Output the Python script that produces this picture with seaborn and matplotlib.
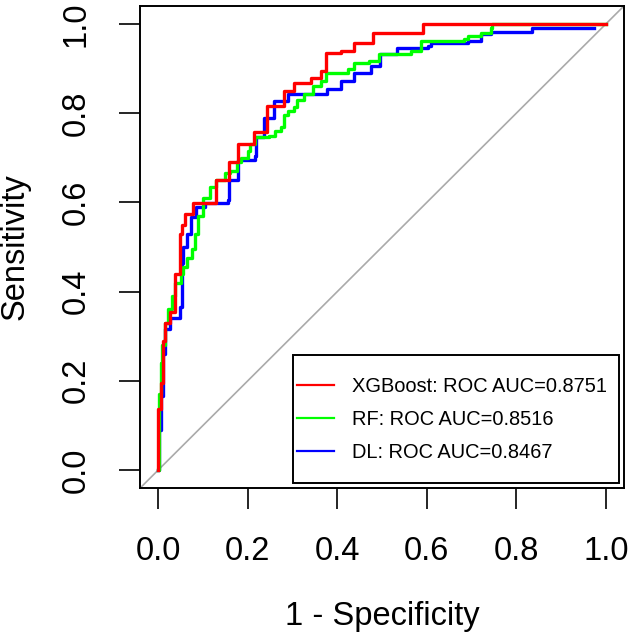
import matplotlib
matplotlib.use("Agg")
import matplotlib.pyplot as plt
from matplotlib.lines import Line2D
from matplotlib.patches import Rectangle
import seaborn as sns
import pandas as pd

# ---- data ----
xgb_fpr = [0, 0, 0.007, 0.011, 0.016, 0.027, 0.038, 0.049, 0.054, 0.060, 0.078, 0.128, 0.157, 0.179, 0.213,
           0.244, 0.280, 0.303, 0.341, 0.363, 0.374, 0.408, 0.437, 0.480, 0.592, 1.0]
xgb_tpr = [0, 0.136, 0.196, 0.29, 0.33, 0.355, 0.44, 0.53, 0.55, 0.575, 0.598, 0.65, 0.69, 0.73, 0.757,
           0.817, 0.85, 0.868, 0.88, 0.895, 0.935, 0.94, 0.958, 0.98, 1.0, 1.0]

rf_fpr = [0, 0.002, 0.005, 0.009, 0.016, 0.022, 0.031, 0.038, 0.05, 0.056, 0.065, 0.075, 0.083, 0.088, 0.099,
          0.115, 0.128, 0.150, 0.161, 0.175, 0.184, 0.2, 0.205, 0.217, 0.247, 0.26, 0.274, 0.28, 0.29, 0.303,
          0.31, 0.325, 0.345, 0.363, 0.374, 0.424, 0.437, 0.47, 0.493, 0.565, 0.587, 0.684, 0.693, 0.722,
          0.744, 0.746, 1.0]
rf_tpr = [0, 0.17, 0.24, 0.28, 0.33, 0.36, 0.39, 0.42, 0.44, 0.455, 0.475, 0.495, 0.53, 0.57, 0.61,
          0.635, 0.65, 0.665, 0.67, 0.69, 0.70, 0.716, 0.73, 0.746, 0.75, 0.76, 0.768, 0.795, 0.805, 0.813,
          0.83, 0.844, 0.86, 0.873, 0.89, 0.90, 0.913, 0.917, 0.933, 0.94, 0.962, 0.966, 0.973, 0.98,
          0.991, 1.0, 1.0]

dl_fpr = [0, 0.002, 0.007, 0.011, 0.016, 0.027, 0.049, 0.054, 0.056, 0.065, 0.072, 0.085, 0.105, 0.155, 0.157,
          0.177, 0.217, 0.218, 0.236, 0.258, 0.29, 0.378, 0.408, 0.437, 0.475, 0.496, 0.534, 0.603, 0.610,
          0.693, 0.722, 0.744, 0.834, 0.973]
dl_tpr = [0, 0.09, 0.165, 0.26, 0.315, 0.34, 0.366, 0.464, 0.50, 0.53, 0.567, 0.59, 0.598, 0.605, 0.65,
          0.694, 0.705, 0.746, 0.79, 0.828, 0.844, 0.855, 0.873, 0.89, 0.906, 0.933, 0.946, 0.951, 0.958,
          0.962, 0.978, 0.982, 0.991, 0.991]

labels = ["XGBoost: ROC AUC=0.8751", "RF: ROC AUC=0.8516", "DL: ROC AUC=0.8467"]
colors = ["#FF0000", "#00FF00", "#0000FF"]
ticks = [0.0, 0.2, 0.4, 0.6, 0.8, 1.0]
tick_labels = ["0.0", "0.2", "0.4", "0.6", "0.8", "1.0"]

plt.rcParams['font.family'] = ['Liberation Sans', 'DejaVu Sans']

W, H = 630, 636
fig = plt.figure(figsize=(6.30, 6.36), dpi=100)
ax_l, ax_r, ax_t, ax_b = 140.4, 623.7, 6.2, 487.8
ax = fig.add_axes([ax_l / W, (H - ax_b) / H, (ax_r - ax_l) / W, (ax_b - ax_t) / H])
aw, ah = ax_r - ax_l, ax_b - ax_t

ax.axline((0, 0), (1, 1), color="#AAAAAA", lw=1.2, zorder=1)

series = [(dl_fpr, dl_tpr, 2), (rf_fpr, rf_tpr, 1), (xgb_fpr, xgb_tpr, 0)]
for fx, ty, i in series:
    df = pd.DataFrame({"fpr": fx, "tpr": ty})
    sns.lineplot(data=df, x="fpr", y="tpr", sort=False, estimator=None, color=colors[i],
                 lw=2.4, drawstyle="steps-post", ax=ax, legend=False, zorder=2 + (2 - i))

ax.set_xlim(-0.04, 1.04)
ax.set_ylim(-0.04, 1.04)
ax.set_xticks(ticks)
ax.set_xticklabels(tick_labels)
ax.set_yticks(ticks)
ax.set_yticklabels(tick_labels, rotation=90, va="center")
ax.tick_params(axis="both", labelsize=23.5, length=15, width=1.2, color="black")
ax.tick_params(axis="x", pad=20)
ax.tick_params(axis="y", pad=20)
for s in ax.spines.values():
    s.set_linewidth(1.4)
    s.set_color("black")

ax.set_xlabel("1 - Specificity", fontsize=23.5)
ax.set_ylabel("Sensitivity", fontsize=23.5)
ax.xaxis.set_label_coords(0.5, (ax_b - 617) / ah)
ax.xaxis.label.set_va("center")
ax.yaxis.set_label_coords((15 - ax_l) / aw, 0.5)
ax.yaxis.label.set_va("center")

# legend frame (R-style box)
bx0, bx1, by0, by1 = 292.7, 618.5, 355, 483
ax.add_patch(Rectangle(((bx0 - ax_l) / aw, (ax_b - by1) / ah), (bx1 - bx0) / aw, (by1 - by0) / ah,
                       transform=ax.transAxes, facecolor="white", edgecolor="black", lw=1.4, zorder=10))

handles = [Line2D([], [], color=c, lw=1.6) for c in colors]
leg = ax.legend(handles, labels, loc="center left",
                bbox_to_anchor=((296.7 - ax_l) / aw, (ax_b - 419.5) / ah), fontsize=14.4,
                frameon=False, borderaxespad=0, borderpad=0, labelspacing=0.68, handlelength=1.85,
                handletextpad=0.9)
leg.set_zorder(11)

fig.savefig("out.png", dpi=100)
